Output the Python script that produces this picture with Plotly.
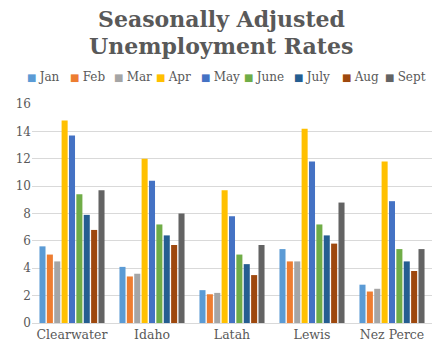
import plotly.graph_objects as go

counties = ["Clearwater", "Idaho", "Latah", "Lewis", "Nez Perce"]
months = ["Jan", "Feb", "Mar", "Apr", "May", "June", "July", "Aug", "Sept"]
jan = [5.6, 4.1, 2.4, 5.4, 2.8]
feb = [5.0, 3.4, 2.1, 4.5, 2.3]
mar = [4.5, 3.6, 2.2, 4.5, 2.5]
apr = [14.8, 12.0, 9.7, 14.2, 11.8]
may = [13.7, 10.4, 7.8, 11.8, 8.9]
june = [9.4, 7.2, 5.0, 7.2, 5.4]
july = [7.9, 6.4, 4.3, 6.4, 4.5]
aug = [6.8, 5.7, 3.5, 5.8, 3.8]
sept = [9.7, 8.0, 5.7, 8.8, 5.4]
series = [jan, feb, mar, apr, may, june, july, aug, sept]
colors = ["#5B9BD5", "#ED7D31", "#A5A5A5", "#FFC000", "#4472C4",
          "#70AD47", "#255E91", "#9E480E", "#636363"]

W, H = 435, 353
ML, MR, MT, MB = 32, 3, 104, 30
PW, PH = W - ML - MR, H - MT - MB

def px_x(x):
    return (x - ML) / PW

def px_y(y):
    return (H - MB - y) / PH

fig = go.Figure()
for name, vals, c in zip(months, series, colors):
    fig.add_trace(go.Bar(name=name, x=counties, y=vals, marker_color=c,
                         marker_line_width=0, showlegend=False))

font_fam = "DejaVu Serif"
txt_col = "#595959"

annotations = []
for line, yc in [("Seasonally Adjusted", 19), ("Unemployment Rates", 46)]:
    annotations.append(dict(text=f"<b>{line}</b>", xref="paper", yref="paper",
                            x=px_x(221), y=px_y(yc), xanchor="center", yanchor="middle",
                            showarrow=False,
                            font=dict(family=font_fam, size=22, color=txt_col)))

leg_x = [25, 68, 112, 154, 199, 242, 292, 340, 383]
for name, c, lx in zip(months, colors, leg_x):
    annotations.append(dict(
        text=f"<span style='color:{c};font-size:10px'>■&nbsp;</span>{name}",
        xref="paper", yref="paper", x=px_x(lx), y=px_y(77),
        xanchor="left", yanchor="middle", showarrow=False,
        font=dict(family=font_fam, size=12, color=txt_col)))

fig.update_layout(
    width=W, height=H,
    margin=dict(l=ML, r=MR, t=MT, b=MB),
    paper_bgcolor="white", plot_bgcolor="white",
    barmode="group", bargap=0.17, bargroupgap=0.18,
    showlegend=False,
    annotations=annotations,
    font=dict(family=font_fam, color=txt_col),
    xaxis=dict(showline=True, linecolor="#D9D9D9", ticks="",
               tickfont=dict(family=font_fam, size=12.5, color=txt_col)),
    yaxis=dict(range=[0, 16], dtick=2, showgrid=True, gridcolor="#D9D9D9",
               zeroline=False, showline=False, ticks="",
               tickfont=dict(family=font_fam, size=12, color=txt_col)),
)
fig.write_html("out.html")
